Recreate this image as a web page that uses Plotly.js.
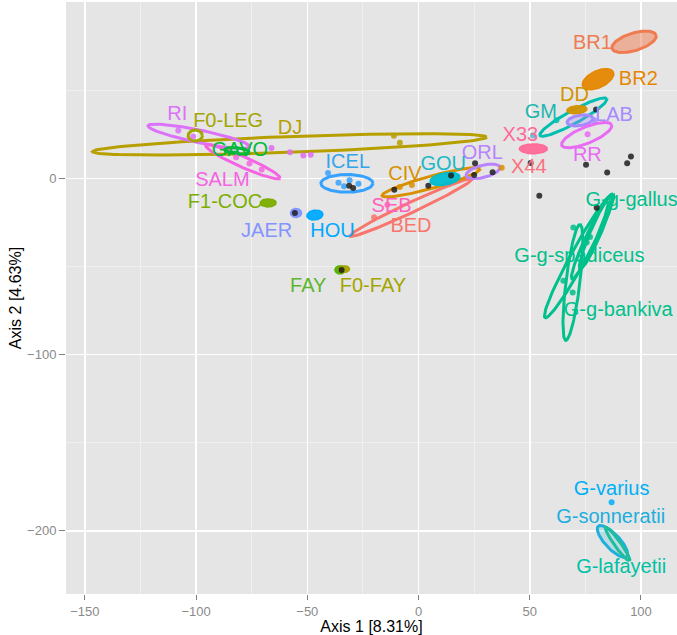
<!DOCTYPE html>
<html><head><meta charset="utf-8">
<script src="https://cdn.plot.ly/plotly-3.0.1.min.js"></script>
<style>body{margin:0;background:#fff;} #chart{width:677px;height:635px;}</style>
</head><body><div id="chart"></div>
<script>
// ---- Group labels (text placed at group positions) ----
const labelText  = ["BR1","BR2","DD","GM","LAB","X33","RR","ORL","X44","GOU","CIV","ICEL","SEB","BED","HOU","JAER","F1-COC","SALM","GAVO","DJ","F0-LEG","RI","FAY","F0-FAY","G-g-gallus","G-g-spadiceus","G-g-bankiva","G-varius","G-sonneratii","G-lafayetii"];
const labelX     = [78.2,98.8,70.1,55.0,87.9,45.8,75.9,28.7,49.6,11.1,-6.1,-31.8,-12.1,-3.4,-38.7,-68.3,-87.0,-88.2,-80.3,-57.8,-85.6,-108.5,-49.6,-20.5,95.8,72.3,89.8,86.8,86.4,91.1];
const labelY     = [76.5,56.0,46.8,37.3,35.4,24.3,12.6,13.9,6.0,7.9,2.2,8.6,-16.4,-27.6,-30.6,-30.3,-13.9,-1.3,15.8,28.2,32.0,36.1,-61.7,-61.7,-12.6,-44.8,-75.2,-176.6,-192.7,-221.2];
const labelColor = ["#F07B50","#E58700","#D39200","#1DB7AE","#A58AFF","#FF6A98","#E76BF3","#B983FF","#FC717F","#1DB8C5","#D89000","#34A4EC","#FF62BC","#F8766D","#00A9FF","#8494FF","#7CAE00","#F564E3","#00BA38","#B79F00","#A3A500","#DC71FA","#5DB52F","#A3A500","#00C08B","#00C08B","#00C08B","#00B0F6","#20AEDD","#00C1A3"];

// ---- Confidence ellipses: centre, major semi-axis vector, minor/major ratio ----
const ellName  = ["DJ","RI","F0-LEG","SALM","GAVO","ICEL","F1-COC","FAY","F0-FAY","BED","CIV","GOU","ORL","X33","GM","DD","LAB","RR","BR2","BR1","G-g-spadiceus","G-g-bankiva","G-g-gallus","G-g-gallus2","G-sonneratii","G-lafayetii","HOU","JAER"];
const ellCx    = [-58.0,-98.7,-100.4,-79.0,-81.6,-32.2,-67.6,-35.3,-33.5,-3.4,5.6,11.9,29.0,51.6,69.6,71.2,72.6,75.6,80.7,96.9,72.2,69.4,79.7,77.0,87.2,89.5,-46.6,-55.1];
const ellCy    = [19.3,23.9,24.3,9.4,15.6,-2.8,-13.9,-51.9,-51.5,-16.5,-2.2,-0.3,4.0,16.8,34.8,39.0,32.9,24.6,56.3,77.5,-43.9,-59.0,-30.6,-35.0,-206.0,-207.5,-20.8,-19.6];
const ellUx    = [88.6,22.9,3.2,16.7,5.5,11.7,3.6,2.3,2.5,27.4,22.0,6.7,7.6,6.3,15.0,4.5,5.8,11.2,6.9,9.9,15.3,3.2,7.1,8.0,6.4,5.4,3.6,2.5];
const ellUy    = [4.1,-6.0,0.0,-9.3,-0.8,0.0,0.0,0.0,0.2,16.2,7.6,1.5,2.4,0.0,10.4,0.5,1.2,5.8,4.1,3.8,35.1,32.9,20.8,22.0,-8.6,-9.5,0.6,0.0];
const ellRatio = [0.04,0.12,0.78,0.13,0.25,0.34,0.5,0.8,0.6,0.075,0.12,0.4,0.35,0.35,0.17,0.4,0.4,0.3,0.5,0.38,0.11,0.12,0.13,0.12,0.35,0.15,0.6,0.8];
const ellColor = ["#B79F00","#DC71FA","#A3A500","#F564E3","#00BA38","#35A2FF","#7CAE00","#53B400","#A3A500","#F8766D","#D89000","#00BCD0","#B983FF","#FF6A98","#00BFB0","#D39200","#A58AFF","#E76BF3","#E58700","#F07B50","#00C08B","#00C08B","#00C08B","#00C08B","#1FB0DA","#1EBE9C","#00A9FF","#8494FF"];
const ellFillA = [0,0,0,0,0,0,0.95,0.95,0.95,0,0,0.95,0,0.95,0,0.95,0.35,0,0.95,0.5,0,0,0,0,0.2,0,0.95,0.95];

// ---- Individual coloured samples ----
const ptX     = [-11.1,-8.4,-66.1,-57.8,-51.8,-48.5,-108.0,-101.3,-82.0,-76.0,-70.5,-40.7,51.4,37.4,-8.4,-3.0,69.6,77.1,65.1,69.3,75.6,86.8,62.0,76.0,79.0,-20.0,-14.0,-36.0,-31.0,-27.0,-33.5];
const ptY     = [24.2,20.2,17.2,14.9,13.0,13.5,27.2,23.8,12.0,8.5,5.0,3.1,24.3,6.0,-4.8,-3.7,-27.8,-33.3,-58.1,-64.7,-36.3,-183.8,33.0,25.0,33.0,-22.0,-15.0,-2.5,-1.0,-3.0,-4.5];
const ptColor = ["#B79F00","#B79F00","#E06CF0","#E06CF0","#E06CF0","#E06CF0","#DC71FA","#DC71FA","#F564E3","#F564E3","#F564E3","#35A2FF","#5BB8D0","#D89000","#D89000","#D89000","#00C08B","#00C08B","#00C08B","#00C08B","#00C08B","#00B0F6","#00BFB0","#E76BF3","#A58AFF","#F8766D","#FF62BC","#35A2FF","#35A2FF","#35A2FF","#35A2FF"];

// ---- Unassigned samples (black) ----
const blackX = [-31.2,-29.4,-10.9,4.4,14.6,25.4,25.0,33.3,50.4,54.3,75.3,84.8,93.8,95.5,79.8,80.1,-55.6,-34.6];
const blackY = [-4.1,-5.4,-6.4,-4.1,1.6,8.6,2.0,3.5,8.8,-9.8,7.8,3.3,8.6,12.4,39.1,-16.6,-19.6,-51.9];

const xTitle = "Axis 1 [8.31%]";
const yTitle = "Axis 2 [4.63%]";

// pixel-per-unit scales, used only to draw ellipse minor axes perpendicular on screen
const SX = 2.224, SY = 1.758;

function rgba(hex, a){
  const n = parseInt(hex.slice(1),16);
  return `rgba(${(n>>16)&255},${(n>>8)&255},${n&255},${a})`;
}

const traces = [];
for (let i=0;i<ellCx.length;i++){
  const upx = ellUx[i]*SX, upy = ellUy[i]*SY;
  const vx = -upy*ellRatio[i]/SX, vy = upx*ellRatio[i]/SY;
  const xs=[], ys=[];
  for (let k=0;k<=120;k++){
    const t = 2*Math.PI*k/120;
    xs.push(ellCx[i] + ellUx[i]*Math.cos(t) + vx*Math.sin(t));
    ys.push(ellCy[i] + ellUy[i]*Math.cos(t) + vy*Math.sin(t));
  }
  const filled = ellFillA[i] > 0;
  traces.push({
    type:'scatter', mode:'lines', x:xs, y:ys, hoverinfo:'skip',
    line:{color:ellColor[i], width: ellFillA[i]>0.9?1.5:3},
    fill: filled?'toself':'none',
    fillcolor: rgba(ellColor[i],ellFillA[i]),
    showlegend:false
  });
}
traces.push({type:'scatter', mode:'markers', x:ptX, y:ptY, hoverinfo:'skip',
  marker:{color:ptColor, size:6, opacity:0.85}, showlegend:false});
traces.push({type:'scatter', mode:'markers', x:blackX, y:blackY, hoverinfo:'skip',
  marker:{color:'#1f1f1f', size:6, opacity:0.85}, showlegend:false});
traces.push({type:'scatter', mode:'text', x:labelX, y:labelY, text:labelText, hoverinfo:'skip',
  textposition:'middle center', cliponaxis:true,
  textfont:{family:'Liberation Sans, Arial, sans-serif', size:20, color:labelColor}, showlegend:false});

const layout = {
  width:677, height:635,
  margin:{l:66, r:0, t:2, b:41},
  paper_bgcolor:'#ffffff', plot_bgcolor:'#E5E5E5',
  font:{family:'Liberation Sans, Arial, sans-serif'},
  xaxis:{
    range:[-158.5,116.2], tickvals:[-150,-100,-50,0,50,100], zeroline:false,
    showgrid:true, gridcolor:'#ffffff', gridwidth:1.6,
    minor:{tickvals:[-125,-75,-25,25,75], showgrid:true, gridcolor:'#F2F2F2', gridwidth:0.8, ticklen:0},
    ticks:'outside', ticklen:5, tickcolor:'#7F7F7F', tickwidth:1,
    tickfont:{size:13, color:'#8A8A8A'}, showline:false,
    title:{text:xTitle, font:{size:16, color:'#000000'}, standoff:0}
  },
  yaxis:{
    range:[-235.8,100.1], tickvals:[-200,-100,0], zeroline:false,
    showgrid:true, gridcolor:'#ffffff', gridwidth:1.6,
    minor:{tickvals:[-150,-50,50], showgrid:true, gridcolor:'#F2F2F2', gridwidth:0.8, ticklen:0},
    ticks:'outside', ticklen:6, tickcolor:'#7F7F7F', tickwidth:1,
    tickfont:{size:13, color:'#8A8A8A'}, showline:false,
    title:{text:yTitle, font:{size:16, color:'#000000'}, standoff:1}
  }
};

Plotly.newPlot('chart', traces, layout, {staticPlot:true, displayModeBar:false});
</script>
</body></html>
